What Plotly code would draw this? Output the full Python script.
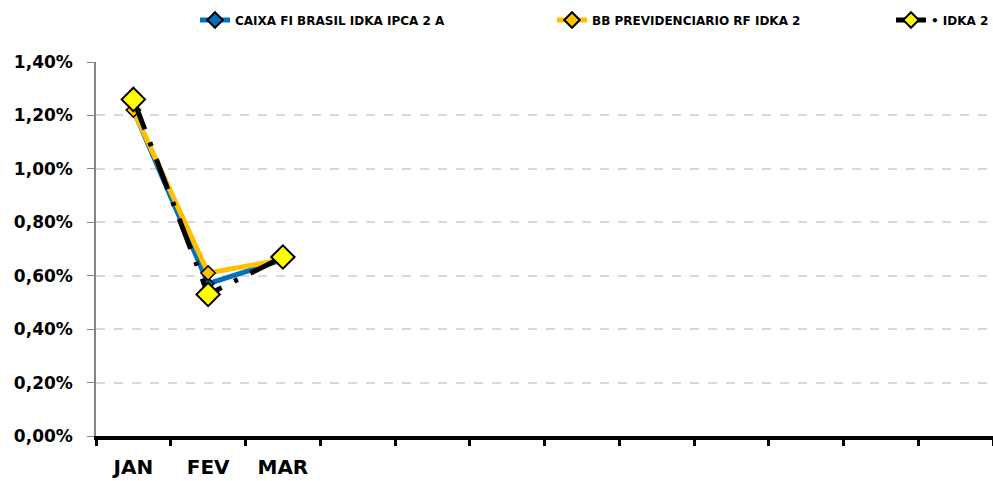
import plotly.graph_objects as go

months = ["JAN", "FEV", "MAR", "ABR", "MAI", "JUN", "JUL", "AGO", "SET", "OUT", "NOV", "DEZ"]
month_labels = ["JAN", "FEV", "MAR", "", "", "", "", "", "", "", "", ""]
obs_months = ["JAN", "FEV", "MAR"]
caixa = [0.0122, 0.0057, 0.0066]
bb = [0.0122, 0.0061, 0.0066]
idka2 = [0.0126, 0.0053, 0.0067]
y_ticks = [0, 0.002, 0.004, 0.006, 0.008, 0.010, 0.012, 0.014]

fig = go.Figure()
fig.add_trace(go.Scatter(
    x=obs_months, y=caixa, name="CAIXA FI BRASIL IDKA IPCA 2 A", mode="lines+markers",
    line=dict(color="#0070C0", width=5),
    marker=dict(symbol="diamond", size=9, color="#0070C0", line=dict(color="#000000", width=1.5)),
    legend="legend",
))
fig.add_trace(go.Scatter(
    x=obs_months, y=bb, name="BB PREVIDENCIARIO RF IDKA 2", mode="lines+markers",
    line=dict(color="#FFC000", width=5),
    marker=dict(symbol="diamond", size=11, color="#FFC000", line=dict(color="#000000", width=1.5)),
    legend="legend2",
))
fig.add_trace(go.Scatter(
    x=obs_months, y=idka2, name="• IDKA 2", mode="lines+markers",
    line=dict(color="#000000", width=5, dash="32px,14px,4px,14px"),
    marker=dict(symbol="diamond", size=18, color="#FFFF00", line=dict(color="#000000", width=2)),
    legend="legend3",
))

leg_font = dict(family="DejaVu Sans", size=12, color="#000000", weight="bold")
def leg(xpx):
    return dict(
        orientation="h", x=xpx / 993, xanchor="left", xref="container",
        y=1 - 20 / 481, yanchor="middle", yref="container",
        font=leg_font, itemsizing="constant", bgcolor="rgba(0,0,0,0)",
    )

fig.update_layout(
    width=993, height=481,
    margin=dict(l=96, r=0, t=62, b=45),
    paper_bgcolor="white", plot_bgcolor="white",
    separators=",.",
    font=dict(family="DejaVu Sans", size=16, color="#000000"),
    showlegend=True,
    legend=leg(195), legend2=leg(552), legend3=leg(891),
    xaxis=dict(
        type="category", categoryorder="array", categoryarray=months,
        range=[-0.5, 11.5], automargin=False,
        tickmode="array", tickvals=months, ticktext=month_labels,
        tickson="boundaries", ticks="outside", ticklen=6, tickwidth=2.5, tickcolor="#000000",
        showline=True, linecolor="#000000", linewidth=4,
        showgrid=False, zeroline=False,
        tickfont=dict(family="DejaVu Sans", size=20, color="#000000", weight="bold"),
        ticklabelstandoff=10,
    ),
    yaxis=dict(
        range=[0, 0.014], tickvals=y_ticks, tickformat=".2%", automargin=False,
        ticks="outside", ticklen=7, tickcolor="#868686", tickwidth=1.2,
        showline=True, linecolor="#868686", linewidth=1.5,
        showgrid=True, gridcolor="#D9D9D9", gridwidth=1.5, griddash="dash",
        zeroline=False,
        tickfont=dict(family="DejaVu Sans", size=17, color="#000000", weight="bold"),
        ticklabelstandoff=11,
    ),
)

fig.write_html("out.html", config={"displayModeBar": False},
               post_script="document.body.style.margin='0';")
